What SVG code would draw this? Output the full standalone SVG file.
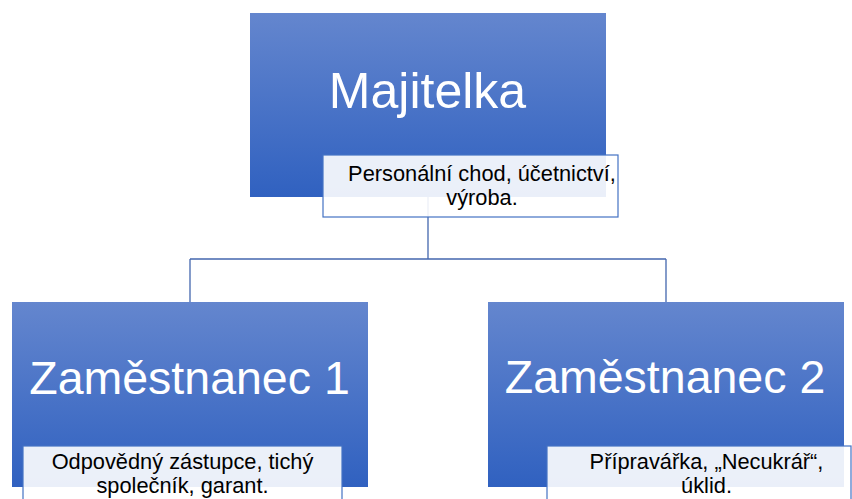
<svg xmlns="http://www.w3.org/2000/svg" width="852" height="499" viewBox="0 0 852 499">
<defs>
<linearGradient id="g" x1="0" y1="0" x2="0" y2="1">
<stop offset="0" stop-color="#6486CE"/>
<stop offset="1" stop-color="#3061C0"/>
</linearGradient>
<style>
.box{fill:url(#g)}
.title{font-family:"Liberation Sans",Arial,sans-serif;fill:#fff;text-anchor:middle}
.tb{fill:#fff;fill-opacity:0.9;stroke:#4472C4;stroke-width:1.2}
.tt{font-family:"Liberation Sans",Arial,sans-serif;font-size:21.8px;fill:#000;text-anchor:middle}
.conn{fill:none;stroke:#4467AE;stroke-width:1.3}
</style>
</defs>
<rect x="0" y="0" width="852" height="499" fill="#fff"/>
<g id="connectors">
<path class="conn" d="M428 197 V259 M190 259 H666 M190 259 V302 M666 259 V302"/>
</g>
<g id="majitelka">
<rect class="box" x="250" y="13" width="356" height="184"/>
<text class="title" x="427.5" y="108" font-size="50">Majitelka</text>
<rect class="tb" x="323" y="155" width="295" height="62"/>
<text class="tt" x="482" y="181">Personální chod, účetnictví,</text>
<text class="tt" x="482" y="205">výroba.</text>
</g>
<g id="zamestnanec1">
<rect class="box" x="12" y="302" width="356" height="185"/>
<text class="title" x="189.5" y="394" font-size="46.5">Zaměstnanec 1</text>
<rect class="tb" x="23" y="446" width="319" height="70"/>
<text class="tt" x="182.5" y="469">Odpovědný zástupce, tichý</text>
<text class="tt" x="182.5" y="493">společník, garant.</text>
</g>
<g id="zamestnanec2">
<rect class="box" x="488" y="302" width="356" height="185"/>
<text class="title" x="665" y="393" font-size="46.5">Zaměstnanec 2</text>
<rect class="tb" x="547" y="446" width="304" height="70"/>
<text class="tt" x="706.5" y="469">Přípravářka, „Necukrář“,</text>
<text class="tt" x="706.5" y="493">úklid.</text>
</g>
</svg>
